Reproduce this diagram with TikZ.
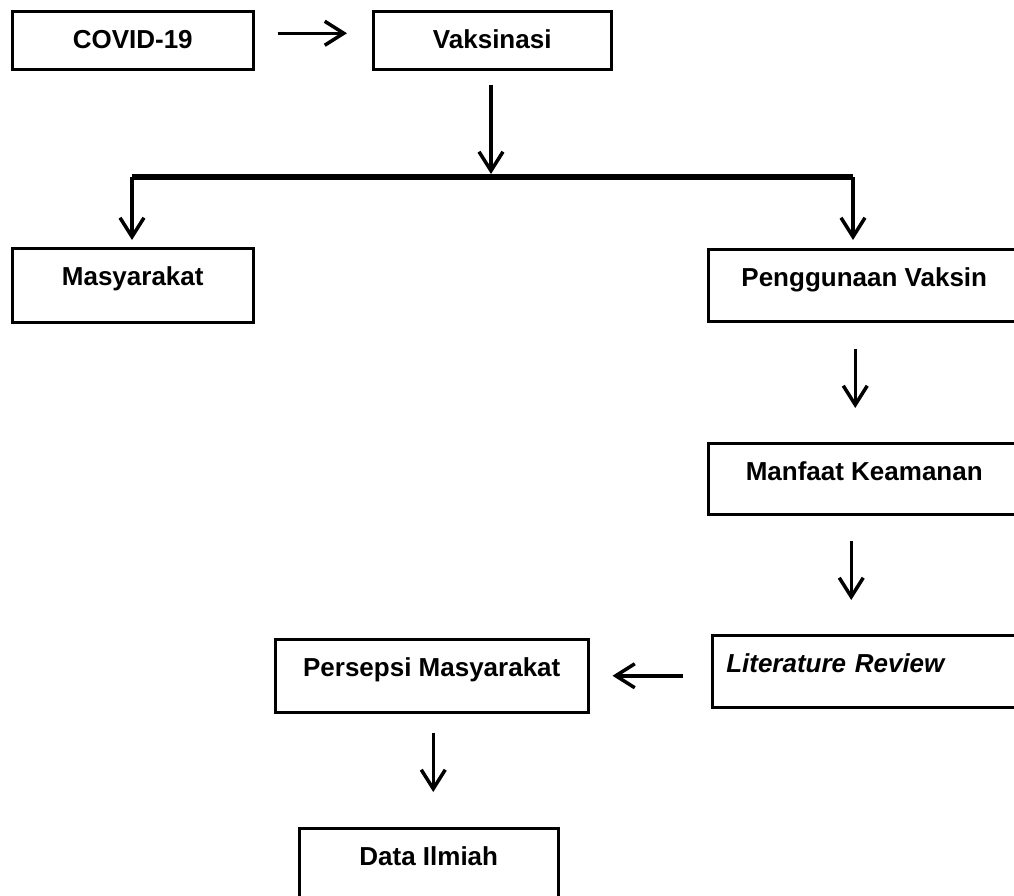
\documentclass[tikz,border=0pt]{standalone}
\usepackage{fontspec}
\setmainfont{Liberation Sans}
\usetikzlibrary{arrows.meta}

\begin{document}
\begin{tikzpicture}[x=1pt, y=-1pt,
    arr/.style={-{Straight Barb[length=19pt,width=24pt]}, line width=3.5pt},
    kotak/.style={draw, line width=2.5pt, anchor=north west, inner ysep=0pt,
        font=\fontsize{26}{30}\selectfont\bfseries, text height=37pt}]
    
    \useasboundingbox (0,0) rectangle (1014,895);
    
    % baris atas
    \node[kotak, minimum width=241pt, text depth=21pt] (covid) at (11,10) {COVID-19};
    \node[kotak, minimum width=238pt, text depth=21pt] (vaks) at (372,10) {Vaksinasi};
    \draw [arr, shorten <=23pt, shorten >=25pt] ([yshift=7pt]covid.east) -- ([yshift=7pt]vaks.west);
    
    % cabang
    \coordinate (barL) at (132,177);
    \coordinate (barM) at (491,177);
    \coordinate (barR) at (853,177);
    \draw [line width=6.5pt] (barL) -- (barR);
    \draw [arr, shorten <=14pt, shorten >=3pt] (barM |- vaks.south) -- (barM);
    
    \node[kotak, minimum width=241pt, text depth=37pt] (masy) at (11,247) {Masyarakat};
    \node[kotak, minimum width=312pt, text depth=35pt] (peng) at (707,248) {Penggunaan Vaksin};
    \draw [arr, shorten >=7pt] (barL) -- (barL |- masy.north);
    \draw [arr, shorten >=8pt] (barR) -- (barR |- peng.north);
    
    % kolom kanan
    \node[kotak, minimum width=312pt, text depth=34pt] (manf) at (707,442) {Manfaat Keamanan};
    \node[kotak, align=left, text width=280pt, inner xsep=14pt, text depth=35pt] (lit) at (711,634) {\textit{Literature Review}};
    \draw [arr, shorten <=26pt, shorten >=34pt] ([xshift=-9pt]peng.south) -- ([xshift=-9pt]manf.north);
    \draw [arr, shorten <=25pt, shorten >=34pt] ([xshift=-13pt]manf.south) -- ([xshift=-13pt]manf.south |- lit.north);
    
    % bawah
    \node[kotak, minimum width=313pt, text depth=36pt] (pers) at (274,638) {Persepsi Masyarakat};
    \node[kotak, minimum width=259pt, text depth=37pt] (data) at (298,827) {Data Ilmiah};
    \draw [arr, shorten <=28pt, shorten >=23pt] (pers.east -| lit.west) -- (pers.east);
    \draw [arr, shorten <=19pt, shorten >=35pt] ([xshift=1.5pt]pers.south) -- ([xshift=1.5pt]pers.south |- data.north);
    
\end{tikzpicture}
\end{document}
